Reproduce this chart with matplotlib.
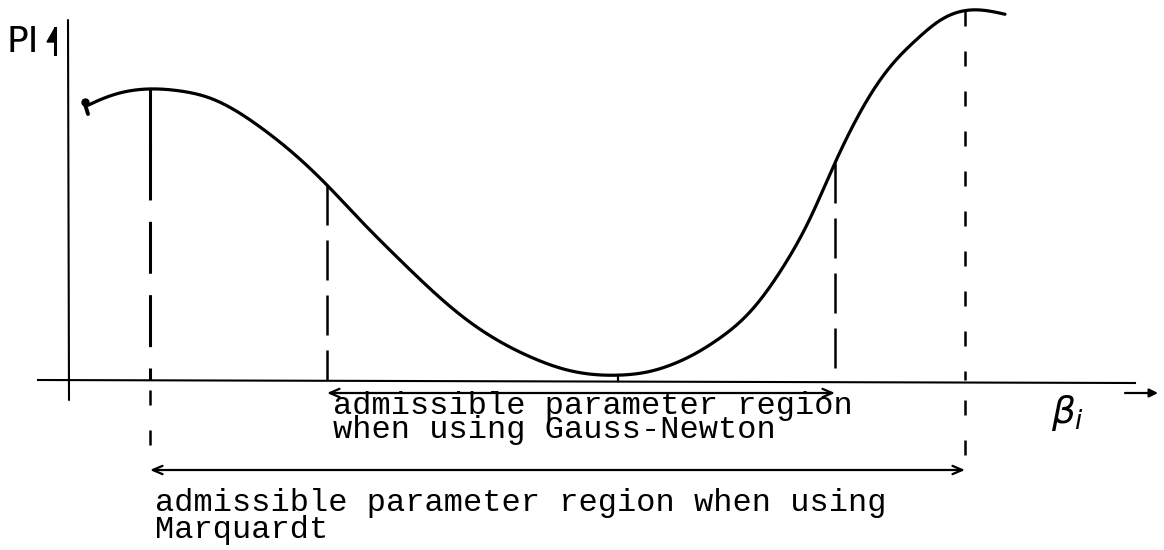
import numpy as np
import matplotlib
matplotlib.use("Agg")
import matplotlib.pyplot as plt
from matplotlib.patches import Polygon

# Performance index PI as a function of one parameter beta_i (sketch units)
beta = [20, 25, 52, 82, 112, 142, 192, 225, 259, 292, 332, 399, 465, 499,
        550, 580, 600, 630, 649, 682, 715, 742, 767, 782, 799, 822, 849, 872,
        897, 915, 937]
pi_val = [272, 280, 287, 291, 289, 282, 253, 227, 195, 160, 120, 60, 22, 10,
          5, 8, 14, 28, 40, 68, 113, 160, 217, 250, 280, 313, 340, 360,
          370, 370, 365]

# Characteristic parameter values
beta_left_max = 82
beta_gn_lo = 259
beta_gn_hi = 767
beta_min = 550
beta_right_max = 897

gn_label = ["admissible parameter region", "when using Gauss-Newton"]
mq_label = ["admissible parameter region when using", "Marquardt"]


def smooth_spline(x, y, xs, lam=100.0):
    """Penalised smoothing of the sketched points, then a natural spline."""
    x = np.asarray(x, float)
    y = np.asarray(y, float)
    n = len(x)
    # second-difference penalty on unevenly spaced points
    D = np.zeros((n - 2, n))
    for i in range(n - 2):
        h0, h1 = x[i + 1] - x[i], x[i + 2] - x[i + 1]
        D[i, i] = 2 / (h0 * (h0 + h1))
        D[i, i + 1] = -2 / (h0 * h1)
        D[i, i + 2] = 2 / (h1 * (h0 + h1))
    ys = np.linalg.solve(np.eye(n) + lam * 1e4 * D.T @ D / n, y)
    # natural cubic spline through the smoothed points
    h = np.diff(x)
    A = np.zeros((n, n))
    r = np.zeros(n)
    A[0, 0] = A[-1, -1] = 1
    for i in range(1, n - 1):
        A[i, i - 1] = h[i - 1]
        A[i, i] = 2 * (h[i - 1] + h[i])
        A[i, i + 1] = h[i]
        r[i] = 6 * ((ys[i + 1] - ys[i]) / h[i] - (ys[i] - ys[i - 1]) / h[i - 1])
    M = np.linalg.solve(A, r)
    idx = np.clip(np.searchsorted(x, xs) - 1, 0, n - 2)
    a = x[idx + 1] - xs
    b = xs - x[idx]
    hh = h[idx]
    return (M[idx] * a ** 3 / (6 * hh) + M[idx + 1] * b ** 3 / (6 * hh)
            + (ys[idx] / hh - M[idx] * hh / 6) * a
            + (ys[idx + 1] / hh - M[idx + 1] * hh / 6) * b)


cx = np.linspace(beta[0], beta[-1], 1500)
cy = smooth_spline(beta, pi_val, cx)


def curve_at(b):
    return float(np.interp(b, cx, cy))


fig = plt.figure(figsize=(11.64, 5.5), dpi=100)
ax = fig.add_axes([0, 0, 1, 1])
ax.set_xlim(-68, 1096)
ax.set_ylim(-170, 380)
ax.axis("off")

ink = "black"

# axes
ax.plot([0, 1], [360, -20], color=ink, lw=1.5, solid_capstyle="round")
ax.plot([-30, 1067], [0, -3], color=ink, lw=1.5)

# curve with its small starting hook
ax.plot(cx, cy, color=ink, lw=2.3, solid_capstyle="round")
ax.plot([16, 20], [279, 266], color=ink, lw=2.8, solid_capstyle="round")
ax.plot([17], [278], "o", color=ink, ms=5)

# vertical markers
ax.plot([beta_left_max, beta_left_max], [curve_at(beta_left_max), 232],
        color=ink, lw=2.2)
ax.plot([beta_left_max, beta_left_max], [232, 0], color=ink, lw=2.2,
        dashes=(17, 7))
ax.plot([beta_left_max, beta_left_max], [-10, -88], color=ink, lw=1.8,
        dashes=(6, 10))
for b in (beta_gn_lo, beta_gn_hi):
    ax.plot([b, b], [curve_at(b), 0], color=ink, lw=1.8, dashes=(16, 6))
ax.plot([beta_right_max, beta_right_max], [curve_at(beta_right_max), 0],
        color=ink, lw=1.8, dashes=(6, 10))
ax.plot([beta_right_max, beta_right_max], [-20, -88], color=ink, lw=1.8,
        dashes=(6, 10))
ax.plot([beta_min, beta_min], [curve_at(beta_min), -1], color=ink, lw=1.6)

# admissible regions
arrow_style = dict(arrowstyle="<->,head_length=0.7,head_width=0.3",
                   color=ink, lw=1.6, shrinkA=0, shrinkB=0)
ax.annotate("", xy=(beta_gn_hi, -13), xytext=(beta_gn_lo, -13),
            arrowprops=arrow_style)
ax.annotate("", xy=(beta_right_max, -90), xytext=(beta_left_max, -90),
            arrowprops=arrow_style)

mono = dict(family="Liberation Mono", fontsize=23, color=ink,
            ha="left", va="top")
ax.text(265, -11, "\n".join(gn_label), linespacing=0.72, **mono)
ax.text(87, -108, "\n".join(mq_label), linespacing=0.88, **mono)

# axis labels
ax.text(-61, 328, "PI", family="DejaVu Sans", fontsize=26, color=ink,
        ha="left", va="baseline")
ax.plot([-13, -13], [326, 352], color=ink, lw=2.2)
ax.add_patch(Polygon([[-13, 352], [-21, 338], [-13, 338]], closed=True,
                     color=ink))
ax.text(1000, -33, r"$\beta_i$", fontsize=27, color=ink, ha="center",
        va="center")
ax.annotate("", xy=(1090, -13), xytext=(1057, -13),
            arrowprops=dict(arrowstyle="-|>,head_length=0.5,head_width=0.25",
                            color=ink, lw=1.6, shrinkA=0, shrinkB=0))

fig.savefig("out.png", dpi=100, facecolor="white")
